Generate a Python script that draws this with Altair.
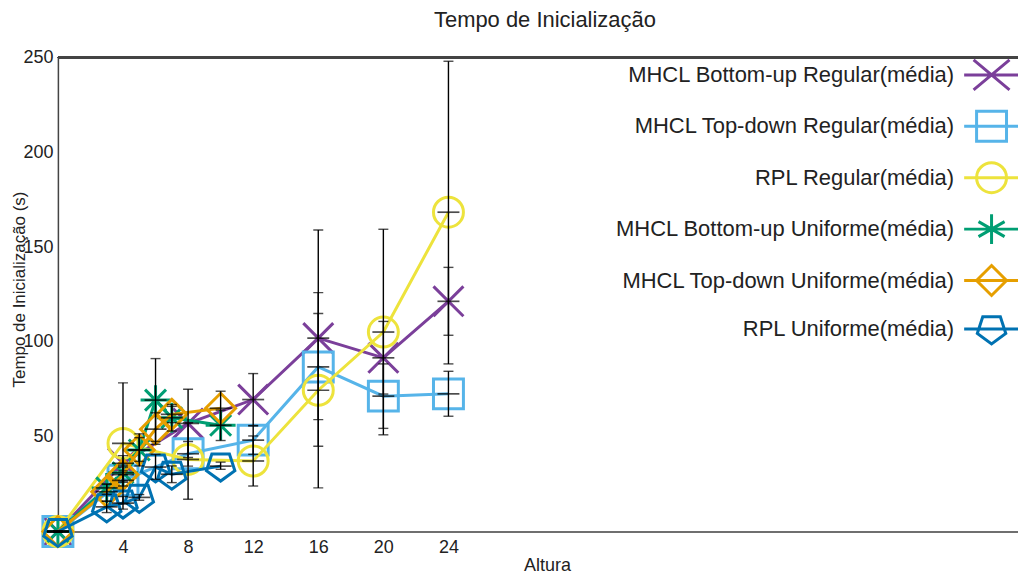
import altair as alt
import pandas as pd

series_names = [
    "MHCL Bottom-up Regular(média)",
    "MHCL Top-down Regular(média)",
    "RPL Regular(média)",
    "MHCL Bottom-up Uniforme(média)",
    "MHCL Top-down Uniforme(média)",
    "RPL Uniforme(média)",
]
series_colors = ["#7B3F9A", "#56B4E9", "#EDE33C", "#009E73", "#E69F00", "#0072B2"]

regular_x = [0, 4, 8, 12, 16, 20, 24]
uniform_x = [0, 3, 4, 5, 6, 7, 10]

bu_reg_mean = [0, 36, 57, 69.6, 102, 91.6, 121.4]
bu_reg_lo = [0, 32, 39, 55.9, 45, 72.5, 103.5]
bu_reg_hi = [0, 40, 75, 83.3, 159, 110.8, 139.3]

td_reg_mean = [0, 27, 41, 48.2, 86.8, 71.4, 72.6]
td_reg_lo = [0, 24, 34.5, 40.7, 59, 54.4, 60.8]
td_reg_hi = [0, 30, 47.5, 55.7, 115, 88.4, 84.5]

rpl_reg_mean = [0, 46.5, 38, 37.2, 74.5, 105.2, 168.4]
rpl_reg_lo = [0, 14.5, 17, 24, 23, 51, 88.4]
rpl_reg_hi = [0, 78.4, 57.4, 50.4, 126, 159.4, 248]

bu_uni_mean = [0, 23, 31, 43, 69.3, 60, 56]
bu_uni_lo = [0, 19.6, 26.7, 34.6, 47.5, 53, 48]
bu_uni_hi = [0, 25, 35, 51.5, 91.2, 67, 64]

td_uni_mean = [0, 21, 30, 43, 54, 61.8, 65]
td_uni_lo = [0, 16, 26, 37, 46, 57.4, 56]
td_uni_hi = [0, 25, 34, 49.5, 62.6, 66, 74]

rpl_uni_mean = [0, 13, 15, 18, 34, 30.2, 34.5]
rpl_uni_lo = [0, 10, 11.8, 16.5, 27.5, 25.8, 32.8]
rpl_uni_hi = [0, 16, 18.5, 19.5, 40.7, 34.6, 36.6]

x_ticks = [4, 8, 12, 16, 20, 24]
y_ticks = [50, 100, 150, 200, 250]

marker_paths = [
    "M-1,-1L1,1M-1,1L1,-1",
    "M-1,-1L1,-1L1,1L-1,1Z",
    "circle",
    "M-1,0L1,0M0,-1L0,1M-0.7,-0.7L0.7,0.7M-0.7,0.7L0.7,-0.7",
    "M0,-1L1,0L0,1L-1,0Z",
    "M-0.588,-0.809L0.588,-0.809L0.951,0.309L0,1L-0.951,0.309Z",
]
line_part = "M-1.83,0L1.83,0"
legend_paths = [
    line_part + "M-1.2,-1L1.2,1M-1.2,1L1.2,-1",
    line_part + "M-1,-1L1,-1L1,1L-1,1Z",
    line_part + "M1,0A1,1,0,1,1,-1,0A1,1,0,1,1,1,0Z",
    line_part + "M0,-1L0,1M-0.87,-0.5L0.87,0.5M-0.87,0.5L0.87,-0.5",
    line_part + "M0,-1L1,0L0,1L-1,0Z",
    line_part + "M-0.588,-0.809L0.588,-0.809L0.951,0.309L0,1L-0.951,0.309Z",
]

series_data = [
    (regular_x, bu_reg_mean, bu_reg_lo, bu_reg_hi),
    (regular_x, td_reg_mean, td_reg_lo, td_reg_hi),
    (regular_x, rpl_reg_mean, rpl_reg_lo, rpl_reg_hi),
    (uniform_x, bu_uni_mean, bu_uni_lo, bu_uni_hi),
    (uniform_x, td_uni_mean, td_uni_lo, td_uni_hi),
    (uniform_x, rpl_uni_mean, rpl_uni_lo, rpl_uni_hi),
]
rows = []
for i, (xs, ms, los, his) in enumerate(series_data):
    for xv, m, lo, hi in zip(xs, ms, los, his):
        rows.append({"series": series_names[i], "order": i, "x": xv, "mean": m, "lo": lo, "hi": hi})
df = pd.DataFrame(rows)

FONT = "Liberation Sans"
xscale = alt.Scale(domain=[0, 59], nice=False, zero=False)
yscale = alt.Scale(domain=[0, 250], nice=False)
xaxis = alt.Axis(values=x_ticks, title="Altura", grid=False, labelFontSize=18, titleFontSize=18,
                 titleFontWeight="normal", labelFont=FONT, titleFont=FONT, labelColor="#222",
                 titleColor="#222", domainColor="#444", domainWidth=1.5, tickSize=0,
                 labelPadding=7, titlePadding=0, titleX=490)
yaxis = alt.Axis(values=y_ticks, title="Tempo de Inicialização (s)", grid=False, labelFontSize=18,
                 titleFontSize=17, titleFontWeight="normal", labelFont=FONT, titleFont=FONT,
                 labelColor="#222", titleColor="#222", domainColor="#444", domainWidth=1.5,
                 tickSize=0, labelPadding=5, titleX=-33, titleY=232, titleBaseline="alphabetic")

X = alt.X("x:Q", scale=xscale, axis=xaxis)
Ymean = alt.Y("mean:Q", scale=yscale, axis=yaxis)
color_scale = alt.Scale(domain=series_names, range=series_colors)

base = alt.Chart(df)

legend_props = dict(orient="none", legendX=919, legendY=1, title=None, labelAlign="right",
                    labelOffset={"expr": "-54"}, labelFontSize=22, labelFont=FONT,
                    labelColor="#222", symbolSize=900, symbolStrokeWidth=3, symbolOpacity=1,
                    rowPadding=8.5, padding=0, labelLimit=600)
legend_layer = base.mark_point(filled=False, size=900, opacity=0).encode(
    x=X,
    y=Ymean,
    color=alt.Color("series:N", scale=color_scale, legend=alt.Legend(**legend_props)),
    shape=alt.Shape("series:N", scale=alt.Scale(domain=series_names, range=legend_paths),
                    legend=alt.Legend(**legend_props)),
)

frame_top = base.mark_rule(color="#444", strokeWidth=1.5).encode(y=alt.datum(250, scale=yscale, axis=yaxis))

series_layers = []
for i, name in enumerate(series_names):
    sub = base.transform_filter(alt.datum.series == name)
    series_layers.append(
        sub.mark_line(strokeWidth=3, color=series_colors[i]).encode(x=X, y=Ymean, order="x:Q")
    )
    series_layers.append(
        sub.mark_point(shape=marker_paths[i], size=900, filled=False, strokeWidth=3,
                       color=series_colors[i], opacity=1).encode(x=X, y=Ymean)
    )

err = base.mark_rule(color="black", strokeWidth=1.4).encode(
    x=X, y=alt.Y("lo:Q", scale=yscale, axis=yaxis), y2="hi:Q")
cap_lo = base.mark_tick(orient="horizontal", size=10, thickness=1.4, color="black").encode(
    x=X, y=alt.Y("lo:Q", scale=yscale, axis=yaxis))
cap_hi = base.mark_tick(orient="horizontal", size=10, thickness=1.4, color="black").encode(
    x=X, y=alt.Y("hi:Q", scale=yscale, axis=yaxis))
mean_tick = base.mark_tick(orient="horizontal", size=22, thickness=1.7, color="black").encode(
    x=X, y=Ymean)

chart = alt.layer(
    legend_layer, frame_top, *series_layers, err, cap_lo, cap_hi, mean_tick
).properties(
    width=962,
    height=475,
    padding={"left": 50, "top": 49, "right": 0, "bottom": 44},
    autosize=alt.AutoSizeParams(type="none"),
    title=alt.TitleParams("Tempo de Inicialização", fontSize=22, font=FONT, fontWeight="normal",
                          color="#222", offset=17, dx=7),
).configure_view(stroke=None).configure(background="white")

chart.save("out.html", embed_options={"renderer": "svg", "actions": False})
